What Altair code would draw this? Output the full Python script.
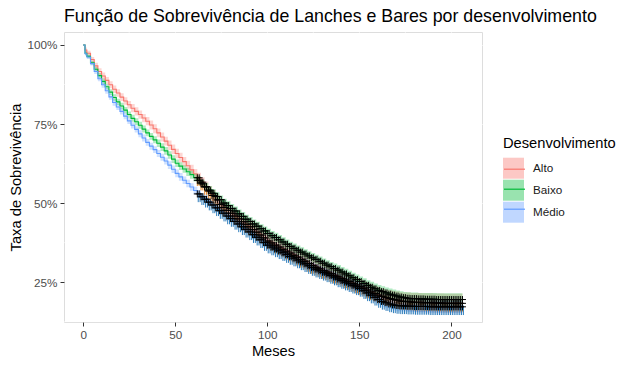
import altair as alt
import pandas as pd
import numpy as np

# ---------------- data ----------------
series_names = ["Alto", "Baixo", "Médio"]
series_colors = ["#F8766D", "#00BA38", "#619CFF"]

# survival curve sampled at t = 0, 1, 2, 4, ..., 206 months
times = [0, 1] + list(range(2, 207, 2))

alto = [100, 98.4,
        97.4, 95.4, 93.4, 91.6, 90.2, 88.8, 87.4, 86.0, 84.8, 83.5,
        82.3, 81.1, 80.0, 79.0, 78.0, 76.9, 75.9, 74.7, 73.5, 72.2,
        70.9, 69.6, 68.3, 67.0, 65.7, 64.4, 63.1, 61.8, 60.5, 59.2,
        58.0, 56.6, 55.2, 53.8, 52.4, 51.0, 49.6, 48.6, 47.7, 46.8,
        45.9, 45.0, 44.1, 43.3, 42.5, 41.6, 40.8, 39.9, 39.0, 38.0,
        37.4, 36.7, 36.1, 35.4, 34.8, 34.2, 33.5, 32.9, 32.2, 31.6,
        30.9, 30.3, 29.7, 29.2, 28.7, 28.2, 27.7, 27.2, 26.7, 26.2,
        25.7, 25.2, 24.6, 24.1, 23.6, 23.1, 22.5, 21.9, 21.4, 20.9,
        20.5, 20.1, 19.8, 19.5, 19.3, 19.0, 18.9, 18.8, 18.7, 18.6,
        18.6, 18.5, 18.5, 18.5, 18.4, 18.4, 18.4, 18.3, 18.3, 18.3,
        18.3, 18.3, 18.3]
baixo = [100, 97.4,
         96.4, 94.4, 92.3, 90.3, 88.5, 86.8, 85.1, 83.4, 82.0, 80.7,
         79.4, 78.0, 76.8, 75.7, 74.6, 73.4, 72.2, 71.1, 70.0, 68.9,
         67.7, 66.5, 65.2, 63.9, 62.6, 61.7, 60.8, 59.9, 59.0, 58.1,
         57.2, 56.1, 55.1, 54.1, 53.1, 52.1, 51.1, 50.0, 49.2, 48.3,
         47.5, 46.6, 45.8, 44.9, 44.2, 43.4, 42.7, 41.9, 41.2, 40.4,
         39.7, 39.1, 38.4, 37.7, 37.0, 36.3, 35.7, 35.1, 34.5, 33.9,
         33.3, 32.7, 32.2, 31.6, 31.0, 30.4, 29.9, 29.3, 28.8, 28.2,
         27.6, 27.0, 26.4, 25.8, 25.2, 24.6, 24.0, 23.4, 22.9, 22.4,
         22.0, 21.6, 21.2, 20.9, 20.6, 20.3, 20.1, 19.9, 19.8, 19.8,
         19.7, 19.7, 19.6, 19.6, 19.6, 19.5, 19.5, 19.5, 19.5, 19.5,
         19.5, 19.5, 19.5]
medio = [100, 97.2,
         96.2, 94.1, 91.6, 89.3, 87.4, 85.5, 83.6, 81.8, 80.4, 79.0,
         77.5, 76.0, 74.6, 73.3, 71.9, 70.6, 69.2, 68.0, 66.9, 65.7,
         64.5, 63.3, 62.0, 60.7, 59.4, 58.3, 57.2, 56.2, 55.1, 54.0,
         52.9, 52.0, 51.2, 50.3, 49.4, 48.5, 47.6, 46.8, 45.9, 45.1,
         44.2, 43.4, 42.5, 41.7, 40.9, 40.0, 39.2, 38.4, 37.5, 36.7,
         36.1, 35.5, 34.9, 34.3, 33.7, 33.1, 32.6, 32.0, 31.4, 30.8,
         30.2, 29.6, 29.1, 28.6, 28.1, 27.6, 27.1, 26.6, 26.0, 25.5,
         25.0, 24.5, 24.0, 23.5, 23.0, 22.3, 21.6, 20.9, 20.2, 19.5,
         18.9, 18.5, 18.1, 17.8, 17.6, 17.5, 17.5, 17.4, 17.4, 17.3,
         17.3, 17.3, 17.3, 17.2, 17.2, 17.2, 17.2, 17.2, 17.2, 17.2,
         17.2, 17.2, 17.2]

# half-width of the confidence band (percentage points), read every 5 months
ci_times = [0, 1, 5, 10, 15, 20, 25, 30, 35, 40, 45, 50, 55, 60, 65, 70, 75, 80, 85, 90,
            95, 100, 105, 110, 115, 120, 125, 130, 135, 140, 145, 150, 155, 160, 165,
            170, 175, 180, 185, 190, 195, 200, 206]
alto_ci = [0, 0.8, 1.0, 1.1, 1.2, 1.2, 1.3, 1.3, 1.4, 1.4, 1.5, 1.5, 1.6, 1.6, 1.6,
           1.7, 1.7, 1.7, 1.8, 1.8, 1.8, 1.9, 1.9, 1.9, 2.0, 2.0, 2.0, 2.1, 2.1, 2.2,
           2.2, 2.3, 2.4, 2.5, 2.7, 2.8, 2.9, 3.0, 3.0, 3.0, 3.0, 3.0, 3.0]
baixo_ci = [0, 0.6, 0.8, 0.9, 1.0, 1.0, 1.1, 1.1, 1.1, 1.2, 1.2, 1.2, 1.3, 1.3, 1.3,
            1.3, 1.4, 1.4, 1.4, 1.4, 1.4, 1.5, 1.5, 1.5, 1.5, 1.5, 1.5, 1.5, 1.6, 1.6,
            1.6, 1.6, 1.7, 1.7, 1.8, 1.8, 1.9, 1.9, 2.0, 2.0, 2.0, 2.0, 2.0]
medio_ci = [0, 0.6, 0.8, 0.9, 1.0, 1.0, 1.0, 1.1, 1.1, 1.1, 1.2, 1.2, 1.2, 1.2, 1.3,
            1.3, 1.3, 1.3, 1.3, 1.4, 1.4, 1.4, 1.4, 1.4, 1.4, 1.5, 1.5, 1.5, 1.5, 1.5,
            1.6, 1.6, 1.6, 1.7, 1.7, 1.8, 1.8, 1.8, 1.9, 1.9, 1.9, 1.9, 1.9]

censor_times = list(range(62, 207))

x_ticks = [0, 50, 100, 150, 200]
y_ticks = [25, 50, 75, 100]
x_minor = [25, 75, 125, 175]
y_minor = [12.5, 37.5, 62.5, 87.5]

# ---------------- tables ----------------
arr_t = np.array(times)
arr_ci_t = np.array(ci_times)


def step_at(tt, grid):
    return int(np.searchsorted(grid, tt, side="right") - 1)


rows = []
for name, vals, ci in zip(series_names, [alto, baixo, medio], [alto_ci, baixo_ci, medio_ci]):
    for t, v in zip(times, vals):
        c = ci[step_at(t, arr_ci_t)]
        rows.append({"serie": name, "t": t, "s": v, "lo": v - c, "hi": v + c})
df = pd.DataFrame(rows)

crow = []
for name, vals, ci in zip(series_names, [alto, baixo, medio], [alto_ci, baixo_ci, medio_ci]):
    for t in censor_times:
        v = vals[step_at(t, arr_t)]
        crow.append({"serie": name, "t": t, "s": v, "lo": v - 2.6, "hi": v + 0.4})
dfc = pd.DataFrame(crow)
stripes_o = dfc[dfc.serie == "Alto"].copy()
stripes_b = dfc[dfc.serie == "Médio"].copy()
stripes_b["t"] = stripes_b["t"] + 0.5

FONT = "Liberation Sans"

xscale = alt.Scale(domain=[-10.4, 216.6], nice=False, zero=False)
yscale = alt.Scale(domain=[12.4, 104.1], nice=False, zero=False)
xaxis = alt.Axis(values=x_ticks, title="Meses", grid=True, gridColor="white", gridWidth=1.1,
                 domain=False, tickColor="#333333", tickSize=4, labelColor="#4D4D4D",
                 labelFontSize=11.7, labelFont=FONT, labelPadding=3, titleFont=FONT,
                 titleFontSize=14.7, titleFontWeight="normal", titleColor="black", titlePadding=3)
yaxis = alt.Axis(values=y_ticks, title="Taxa de Sobrevivência", grid=True, gridColor="white",
                 gridWidth=1.1, domain=False, tickColor="#333333", tickSize=4,
                 labelColor="#4D4D4D", labelFontSize=11.7, labelFont=FONT, labelPadding=3,
                 labelExpr="datum.value + '%'", titleFont=FONT, titleFontSize=14.7,
                 titleFontWeight="normal", titleColor="black", titlePadding=4)


def X(f="t"):
    return alt.X(f"{f}:Q", scale=xscale, axis=xaxis, title="Meses")


def Y(f="s"):
    return alt.Y(f"{f}:Q", scale=yscale, axis=yaxis, title="Taxa de Sobrevivência")


base = alt.Chart(df)

minor_v = alt.Chart(pd.DataFrame({"t": x_minor})).mark_rule(color="white", strokeWidth=0.55).encode(x=X())
minor_h = alt.Chart(pd.DataFrame({"s": y_minor})).mark_rule(color="white", strokeWidth=0.55).encode(y=Y())

bands = base.mark_area(interpolate="step-after", opacity=0.3).encode(
    x=X(), y=Y("lo"), y2="hi:Q",
    fill=alt.Fill("serie:N", scale=alt.Scale(domain=series_names, range=series_colors),
                  legend=alt.Legend(title="Desenvolvimento", orient="none", legendX=439, legendY=104,
                                    padding=0, symbolType="square", symbolSize=441,
                                    symbolOpacity=0.4, symbolStrokeWidth=0,
                                    titleFont=FONT, titleFontSize=14.7, titleFontWeight="normal",
                                    titleColor="black", titlePadding=7, labelFont=FONT,
                                    labelFontSize=11.7, labelColor="#1A1A1A", labelOffset=9,
                                    rowPadding=1)),
)

stripe_o = alt.Chart(stripes_o).mark_rule(color="#E58A2E", strokeWidth=1).encode(
    x=X(), y=Y("lo"), y2="hi:Q")
stripe_b = alt.Chart(stripes_b).mark_rule(color="#2B7BBA", strokeWidth=1).encode(
    x=X(), y=Y("lo"), y2="hi:Q")

lines = base.mark_line(interpolate="step-after", strokeWidth=1.1).encode(
    x=X(), y=Y(),
    stroke=alt.Stroke("serie:N", scale=alt.Scale(range=series_colors),
                      legend=alt.Legend(title=" ", orient="none", legendX=439, legendY=104,
                                        padding=0, symbolType="stroke", symbolSize=441,
                                        symbolStrokeWidth=1.2, labelExpr="''",
                                        titleFont=FONT, titleFontSize=14.7, titleFontWeight="normal",
                                        titlePadding=7, labelFont=FONT, labelFontSize=11.7,
                                        labelOffset=9, rowPadding=1)),
)

censor = alt.Chart(dfc).mark_point(shape="M-1,0H1M0,-1V1", size=49, color="black",
                                   filled=False, strokeWidth=1, opacity=1).encode(x=X(), y=Y())

chart = alt.layer(minor_v, minor_h, bands, stripe_o, stripe_b, lines, censor).properties(
    width=418, height=290,
    autosize=alt.AutoSizeParams(type="none"),
    padding={"left": 56, "top": 24, "right": 141, "bottom": 38},
    title=alt.TitleParams(text="Função de Sobrevivência de Lanches e Bares por desenvolvimento",
                          anchor="start", frame="group", font=FONT, fontSize=17.8,
                          fontWeight="normal", color="black", offset=6),
).configure_view(fill="#EBEBEB", stroke=None).configure(background="white")

chart.save("out.html", embed_options={"renderer": "svg", "actions": False})
